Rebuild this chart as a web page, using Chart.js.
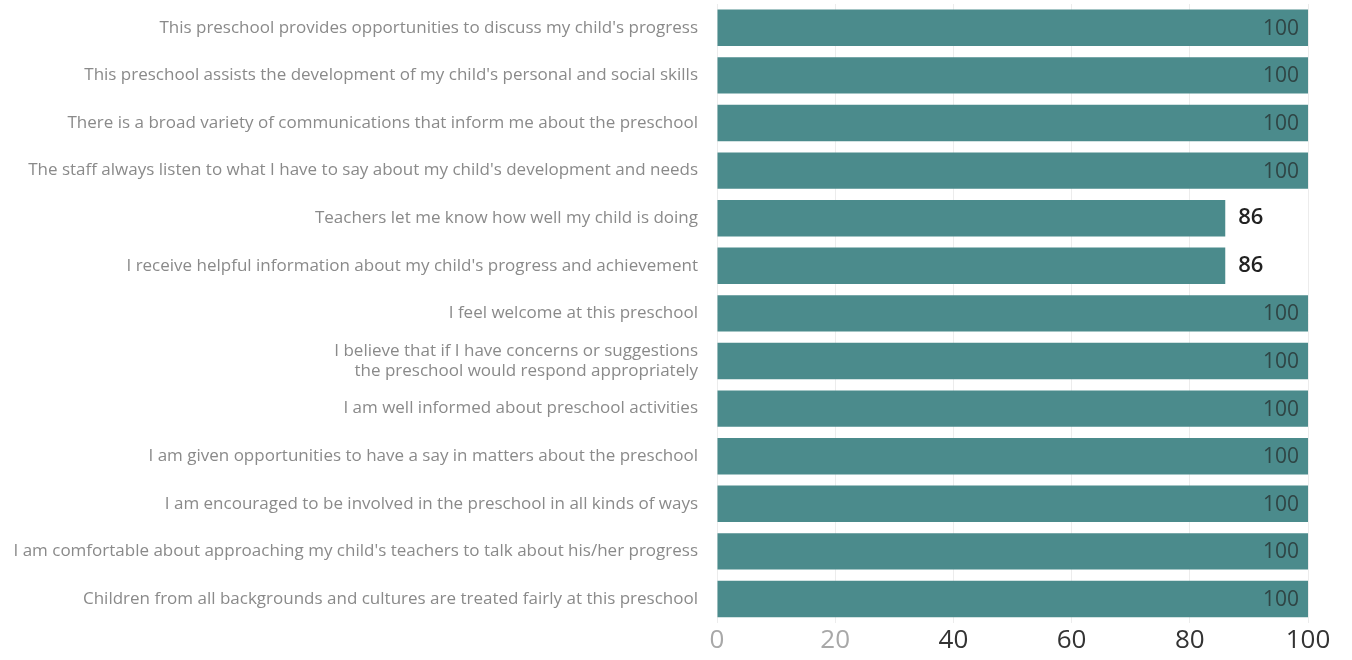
<!DOCTYPE html>
<html>
<head>
<meta charset="utf-8">
<script src="https://cdn.jsdelivr.net/npm/chart.js@4"></script>
<style>
    html, body { margin: 0; padding: 0; background: #ffffff; }
    #wrap { width: 1352px; height: 660px; }
</style>
</head>
<body>
<div id="wrap"><canvas id="grafica"></canvas></div>
<script>
var categorias = [
    'This preschool provides opportunities to discuss my child\'s progress',
    'This preschool assists the development of my child\'s personal and social skills',
    'There is a broad variety of communications that inform me about the preschool',
    'The staff always listen to what I have to say about my child\'s development and needs',
    'Teachers let me know how well my child is doing',
    'I receive helpful information about my child\'s progress and achievement',
    'I feel welcome at this preschool',
    ['I believe that if I have concerns or suggestions', 'the preschool would respond appropriately'],
    'I am well informed about preschool activities',
    'I am given opportunities to have a say in matters about the preschool',
    'I am encouraged to be involved in the preschool in all kinds of ways',
    'I am comfortable about approaching my child\'s teachers to talk about his/her progress',
    'Children from all backgrounds and cultures are treated fairly at this preschool'
];
var valores = [100, 100, 100, 100, 86, 86, 100, 100, 100, 100, 100, 100, 100];
var ticksX = [0, 20, 40, 60, 80, 100];

// Etiquetas de valor: dentro de la barra si llega al final, fuera si no
var valueLabelsPlugin = {
    id: 'valueLabels',
    afterDatasetsDraw: function(chart) {
        var ctx = chart.ctx;
        var meta = chart.getDatasetMeta(0);
        var data = chart.data.datasets[0].data;
        meta.data.forEach(function(bar, i) {
            var v = data[i];
            ctx.save();
            ctx.textBaseline = 'middle';
            if (v >= 95) {
                ctx.font = '21px "Open Sans", sans-serif';
                ctx.fillStyle = '#2f4545';
                ctx.textAlign = 'right';
                ctx.fillText(String(v), bar.x - 9, bar.y + 1);
            } else {
                ctx.font = '600 22px "Open Sans", sans-serif';
                ctx.fillStyle = '#222222';
                ctx.textAlign = 'left';
                ctx.fillText(String(v), bar.x + 13, bar.y);
            }
            ctx.restore();
        });
    }
};

var ctx = document.getElementById('grafica').getContext('2d');
new Chart(ctx, {
    type: 'bar',
    plugins: [valueLabelsPlugin],
    data: {
        labels: categorias,
        datasets: [{
            data: valores,
            backgroundColor: '#4b8b8c',
            borderWidth: 0,
            barPercentage: 0.85,
            categoryPercentage: 0.9
        }]
    },
    options: {
        indexAxis: 'y',
        responsive: true,
        maintainAspectRatio: false,
        animation: false,
        layout: { padding: { top: 4, right: 44, bottom: 2, left: 0 } },
        plugins: {
            legend: { display: false },
            tooltip: { enabled: false }
        },
        scales: {
            x: {
                min: 0,
                max: 100,
                afterBuildTicks: function(scale) {
                    scale.ticks = ticksX.map(function(v) { return { value: v }; });
                },
                grid: { color: '#ececec', drawTicks: false },
                border: { display: false },
                ticks: {
                    padding: 2,
                    color: function(c) { return c.tick.value < 40 ? '#a8a8a8' : '#333333'; },
                    font: { family: 'Open Sans', size: 26 }
                }
            },
            y: {
                afterFit: function(scale) {
                    scale.width = 717;
                    scale.paddingTop = 0;
                    scale.paddingBottom = 0;
                },
                grid: { display: false, drawTicks: false },
                border: { display: false },
                ticks: {
                    padding: 19,
                    color: '#8a8a8a',
                    font: { family: 'Open Sans', size: 17 }
                }
            }
        }
    }
});
</script>
</body>
</html>
